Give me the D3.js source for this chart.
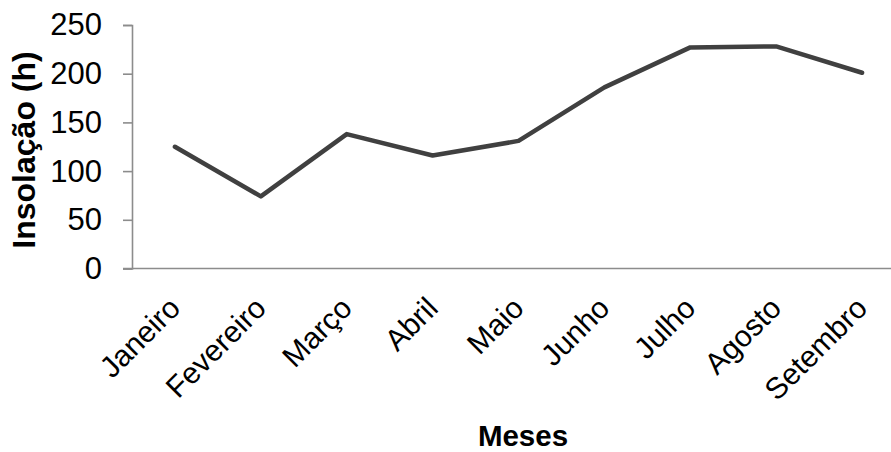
<!DOCTYPE html>
<html>
<head>
<meta charset="utf-8">
<script src="https://cdn.jsdelivr.net/npm/d3@7"></script>
<style>
  html, body { margin: 0; padding: 0; background: #fff; }
  svg { display: block; font-family: Arial, "Liberation Sans", sans-serif; }
</style>
</head>
<body>
<svg id="chart" width="891" height="452"></svg>
<script>
// Monthly sunshine hours
const months = ["Janeiro", "Fevereiro", "Março", "Abril", "Maio", "Junho", "Julho", "Agosto", "Setembro"];
const insolation = [125, 74, 138, 116, 131, 186, 227, 228, 201];
const yTicks = [0, 50, 100, 150, 200, 250];

const svg = d3.select("#chart");
const axisColor = "#8c8c8c";

const x = d3.scalePoint().domain(months).range([132, 905]).padding(0.5);
const y = d3.scaleLinear().domain([0, 250]).range([268.5, 25]);

// Y axis
const yAxis = svg.append("g").attr("transform", "translate(132,0)")
  .call(d3.axisLeft(y).tickValues(yTicks).tickSize(9).tickPadding(21));
yAxis.select(".domain").attr("stroke", axisColor).attr("stroke-width", 1.6);
yAxis.selectAll(".tick line").attr("stroke", axisColor).attr("stroke-width", 1.6);
yAxis.selectAll(".tick text").attr("font-size", 31).attr("fill", "#000")
  .attr("font-family", "Arial, 'Liberation Sans', sans-serif");

// X axis (no tick marks)
const xAxis = svg.append("g").attr("transform", "translate(0,268.5)")
  .call(d3.axisBottom(x).tickSize(0).tickFormat(""));
xAxis.select(".domain").attr("stroke", axisColor).attr("stroke-width", 1.6)
  .attr("d", "M123,0H891");

// Rotated month labels
svg.append("g").selectAll("text").data(months).join("text")
  .attr("transform", d => `translate(${x(d) + 7},310) rotate(-45)`)
  .attr("text-anchor", "end")
  .attr("font-size", 30)
  .attr("fill", "#000")
  .text(d => d);

// Line
const line = d3.line().x((d, i) => x(months[i])).y(d => y(d));
svg.append("path").datum(insolation)
  .attr("d", line)
  .attr("fill", "none")
  .attr("stroke", "#404040")
  .attr("stroke-width", 4.5)
  .attr("stroke-linejoin", "round")
  .attr("stroke-linecap", "round");

// Axis titles
svg.append("text")
  .attr("transform", "translate(35,150) rotate(-90)")
  .attr("text-anchor", "middle")
  .attr("font-size", 32)
  .attr("font-weight", "bold")
  .attr("fill", "#000")
  .text("Insolação (h)");

svg.append("text")
  .attr("x", 523).attr("y", 446)
  .attr("text-anchor", "middle")
  .attr("font-size", 29.5)
  .attr("font-weight", "bold")
  .attr("fill", "#000")
  .text("Meses");
</script>
</body>
</html>
